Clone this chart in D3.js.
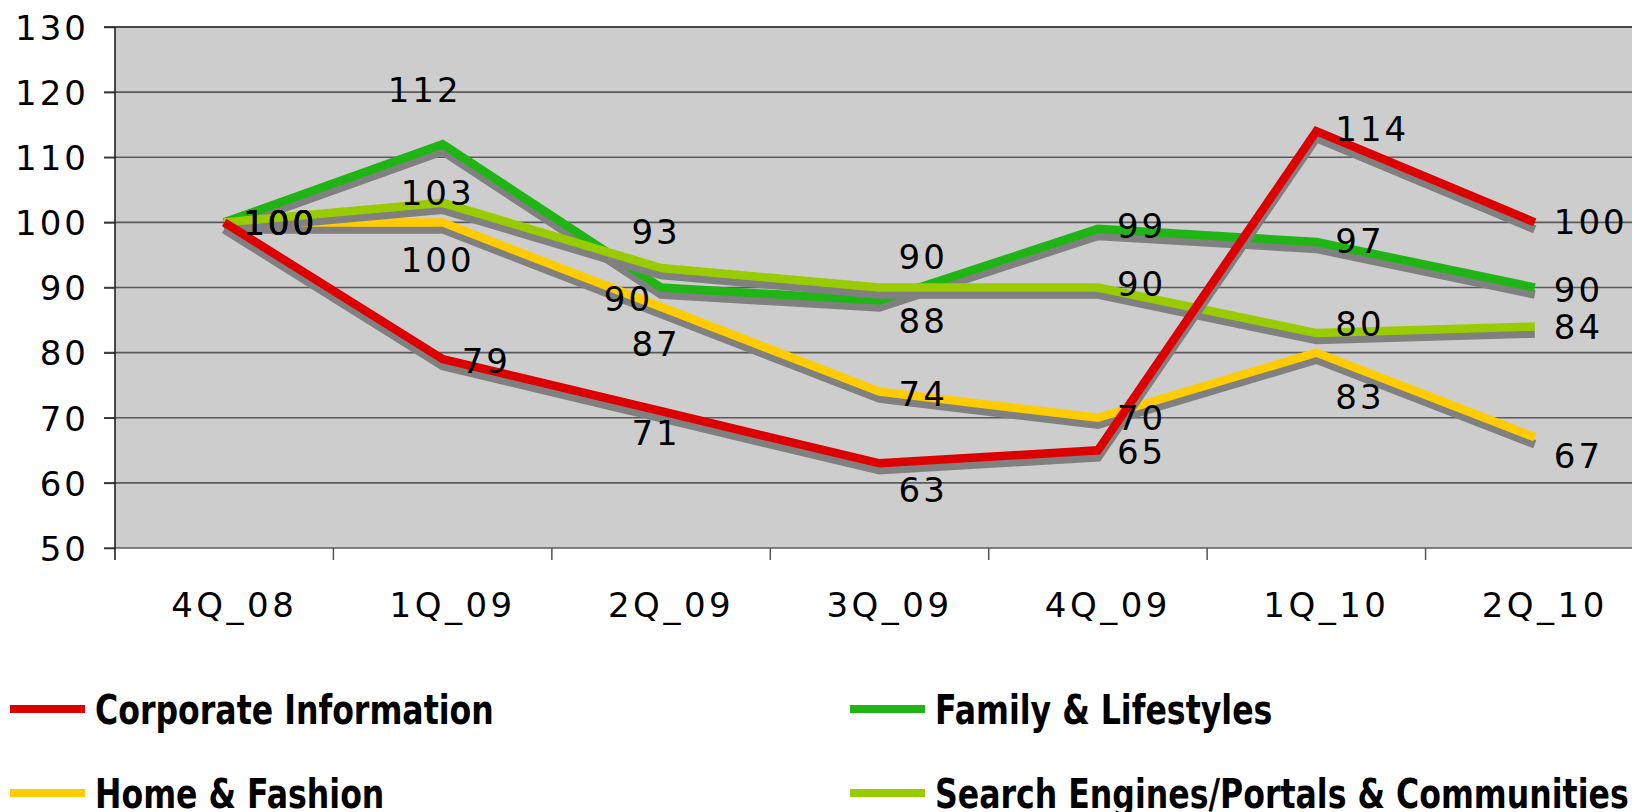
<!DOCTYPE html>
<html>
<head>
<meta charset="utf-8">
<script src="https://cdn.jsdelivr.net/npm/d3@7"></script>
<style>
html,body{margin:0;padding:0;background:#fff;}
svg{display:block;}
</style>
</head>
<body>
<svg id="chart" width="1632" height="812"></svg>
<script>
// ---------- data ----------
const categories = ["4Q_08","1Q_09","2Q_09","3Q_09","4Q_09","1Q_10","2Q_10"];
const yTicks = [50,60,70,80,90,100,110,120,130];
const seriesNames = ["Corporate Information","Family & Lifestyles","Home & Fashion","Search Engines/Portals & Communities"];
const seriesColors = ["#dd0000","#1fb515","#ffcc00","#99cc00"];

const corporate = [100,79,71,63,65,114,100];
const family    = [100,112,90,88,99,97,90];
const home      = [100,100,87,74,70,80,67];
const search    = [100,103,93,90,90,83,84];

// data label texts as printed, where they sit (value units) and on which side of the point
const corporateLabels = ["100","79","71","63","65","114","100"];
const corporateLabelAt = [100,78.7,67.7,59.0,64.8,114.4,100.1];
const corporateLabelSide = ["r","r","c","r","r","r","r"];
const familyLabels = ["100","112","90","88","99","97","90"];
const familyLabelAt = [100,120.4,88.3,84.9,99.5,97.2,89.7];
const familyLabelSide = ["r","cl","l","r","r","r","r"];
const homeLabels = ["100","100","87","74","70","83","67"];
const homeLabelAt = [100,94.2,81.3,73.7,70.0,73.2,64.1];
const homeLabelSide = ["r","c","c","r","r","r","r"];
const searchLabels = ["100","103","93","90","90","80","84"];
const searchLabelAt = [100,104.5,98.6,94.7,90.5,84.5,84.0];
const searchLabelSide = ["r","c","c","r","r","r","r"];

const series = [
  {name: seriesNames[0], color: seriesColors[0], values: corporate, labels: corporateLabels, at: corporateLabelAt, side: corporateLabelSide},
  {name: seriesNames[1], color: seriesColors[1], values: family, labels: familyLabels, at: familyLabelAt, side: familyLabelSide},
  {name: seriesNames[2], color: seriesColors[2], values: home, labels: homeLabels, at: homeLabelAt, side: homeLabelSide},
  {name: seriesNames[3], color: seriesColors[3], values: search, labels: searchLabels, at: searchLabelAt, side: searchLabelSide}
];
const drawOrder = [1,2,3,0];

// ---------- layout ----------
const svg = d3.select("#chart");
const pLeft = 115, pRight = 1644, pTop = 27, pBottom = 548;
const x = d3.scaleBand().domain(categories).range([pLeft, pRight]).paddingInner(0).paddingOuter(0);
const y = d3.scaleLinear().domain([50,130]).range([pBottom, pTop]);
const cx = c => x(c) + x.bandwidth()/2;

const font = "'DejaVu Sans', Verdana, sans-serif";

// plot background
svg.append("rect").attr("x", pLeft).attr("y", pTop)
  .attr("width", pRight - pLeft).attr("height", pBottom - pTop).attr("fill", "#cdcdcd");

// gridlines
svg.append("g").selectAll("line").data(yTicks).join("line")
  .attr("x1", pLeft - 11).attr("x2", 1632)
  .attr("y1", d => y(d)).attr("y2", d => y(d))
  .attr("stroke", d => d === 130 ? "#4a4a4a" : "#5a5a5a")
  .attr("stroke-width", d => d === 130 ? 2.2 : 1.6);

// y axis
const yAxis = svg.append("g").attr("transform", `translate(${pLeft},0)`)
  .call(d3.axisLeft(y).tickValues(yTicks).tickSize(11).tickPadding(15).tickFormat(d3.format("d")));
yAxis.select(".domain").remove();
yAxis.selectAll(".tick line").attr("stroke", "#333").attr("stroke-width", 1.5);
yAxis.selectAll(".tick text").attr("font-family", font).attr("font-size", 34)
  .attr("letter-spacing", "3px").attr("fill", "#000").attr("dy", "0.36em");
svg.append("line").attr("x1", pLeft).attr("x2", pLeft).attr("y1", pTop).attr("y2", pBottom + 12)
  .attr("stroke", "#222").attr("stroke-width", 1.6);

// x axis ticks at category boundaries
const bounds = categories.map(c => x(c));
svg.append("g").selectAll("line").data(bounds.slice(1)).join("line")
  .attr("x1", d => d).attr("x2", d => d).attr("y1", pBottom).attr("y2", pBottom + 12)
  .attr("stroke", "#555").attr("stroke-width", 1.5);
svg.append("g").selectAll("text").data(categories).join("text")
  .attr("x", d => cx(d) + 10).attr("y", 617)
  .attr("text-anchor", "middle").attr("font-family", font).attr("font-size", 34)
  .attr("letter-spacing", "3.5px").attr("fill", "#000").text(d => d);

// lines with drop shadow
const plot = svg.append("g");
const line = d3.line().x((d, i) => cx(categories[i])).y(d => y(d));
drawOrder.forEach(k => {
  const s = series[k];
  plot.append("path").attr("d", line(s.values)).attr("fill", "none")
    .attr("stroke", "#808080").attr("stroke-width", 8.5)
    .attr("stroke-linejoin", "miter").attr("transform", "translate(0,7)");
  plot.append("path").attr("d", line(s.values)).attr("fill", "none")
    .attr("stroke", s.color).attr("stroke-width", 8.5)
    .attr("stroke-linejoin", "miter");
});

// data labels
const lbl = svg.append("g").attr("font-family", font).attr("font-size", 34)
  .attr("letter-spacing", "3px").attr("fill", "#000");
series.forEach(s => {
  s.labels.forEach((t, i) => {
    const px = cx(categories[i]);
    const side = s.side[i];
    let tx = px + 19, anchor = "start";
    if (side === "c") { tx = px - 5; anchor = "middle"; }
    if (side === "cl") { tx = px - 18; anchor = "middle"; }
    if (side === "l") { tx = px - 8; anchor = "end"; }
    lbl.append("text").attr("x", tx).attr("y", y(s.at[i])).attr("dy", "0.36em")
      .attr("text-anchor", anchor).text(t);
  });
});

// legend
const legendCols = [10, 850];
const legendRows = [709, 793];
const lg = svg.append("g");
series.forEach((s, i) => {
  const lx = legendCols[i % 2], ly = legendRows[Math.floor(i / 2)];
  lg.append("line").attr("x1", lx).attr("x2", lx + 75).attr("y1", ly).attr("y2", ly)
    .attr("stroke", s.color).attr("stroke-width", 8);
  lg.append("text").attr("transform", `translate(${lx + 85},${ly + 15}) scale(0.79,1)`)
    .attr("font-family", font).attr("font-weight", "bold").attr("font-size", 40)
    .attr("fill", "#000").text(s.name);
});
</script>
</body>
</html>
